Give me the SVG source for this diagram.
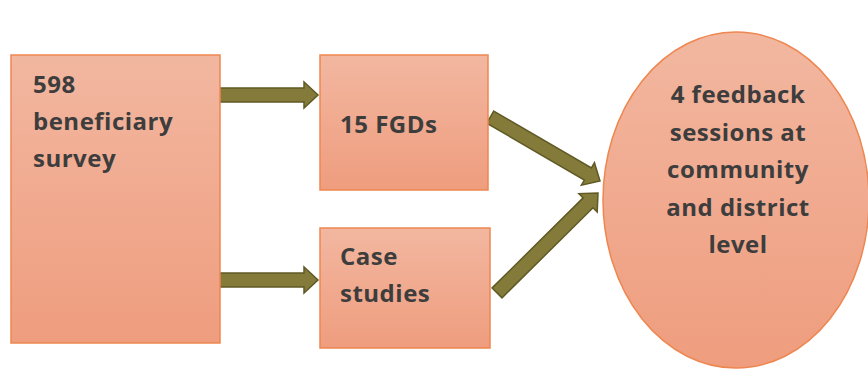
<svg xmlns="http://www.w3.org/2000/svg" width="868" height="369" viewBox="0 0 868 369">
<defs>
<linearGradient id="g" x1="0" y1="0" x2="0" y2="1">
<stop offset="0" stop-color="#f2b7a0"/>
<stop offset="1" stop-color="#ef9d7e"/>
</linearGradient>
</defs>
<style>
.box{fill:url(#g);stroke:#ee8650;stroke-width:1.5}
.t{font-family:"Open Sans",Lato,sans-serif;font-weight:bold;font-size:24px;letter-spacing:0.5px;fill:#3d3d3d}
.a{fill:#847b3a;stroke:#5f5a25;stroke-width:1.5;stroke-linejoin:miter}
</style>
<rect width="868" height="369" fill="#ffffff"/>
<g id="connectors">
<path class="a" d="M218,88 H304 V82 L318,95 L304,108 V102 H218 Z"/>
<path class="a" d="M218,273 H304 V267 L318,280 L304,293 V287 H218 Z"/>
<path class="a" transform="translate(600,181) rotate(30.2)" d="M-127,-7 H-14 V-13 L0,0 L-14,13 V7 H-127 Z"/>
<path class="a" transform="translate(598,193) rotate(-44.7)" d="M-142,-7 H-14 V-13 L0,0 L-14,13 V7 H-142 Z"/>
</g>
<g id="survey">
<rect class="box" x="11" y="55" width="209" height="288"/>
<text class="t" x="33" y="93">598</text>
<text class="t" x="33" y="130">beneficiary</text>
<text class="t" x="33" y="167">survey</text>
</g>
<g id="fgds">
<rect class="box" x="320" y="55" width="168" height="135"/>
<text class="t" x="340" y="133">15 FGDs</text>
</g>
<g id="cases">
<rect class="box" x="320" y="228" width="170" height="120"/>
<text class="t" x="340" y="265">Case</text>
<text class="t" x="340" y="302">studies</text>
</g>
<g id="feedback">
<ellipse class="box" cx="736" cy="200" rx="133" ry="168"/>
<text class="t" text-anchor="middle" x="738" y="103">4 feedback</text>
<text class="t" text-anchor="middle" x="738" y="141">sessions at</text>
<text class="t" text-anchor="middle" x="738" y="178">community</text>
<text class="t" text-anchor="middle" x="738" y="216">and district</text>
<text class="t" text-anchor="middle" x="738" y="253">level</text>
</g>
</svg>
